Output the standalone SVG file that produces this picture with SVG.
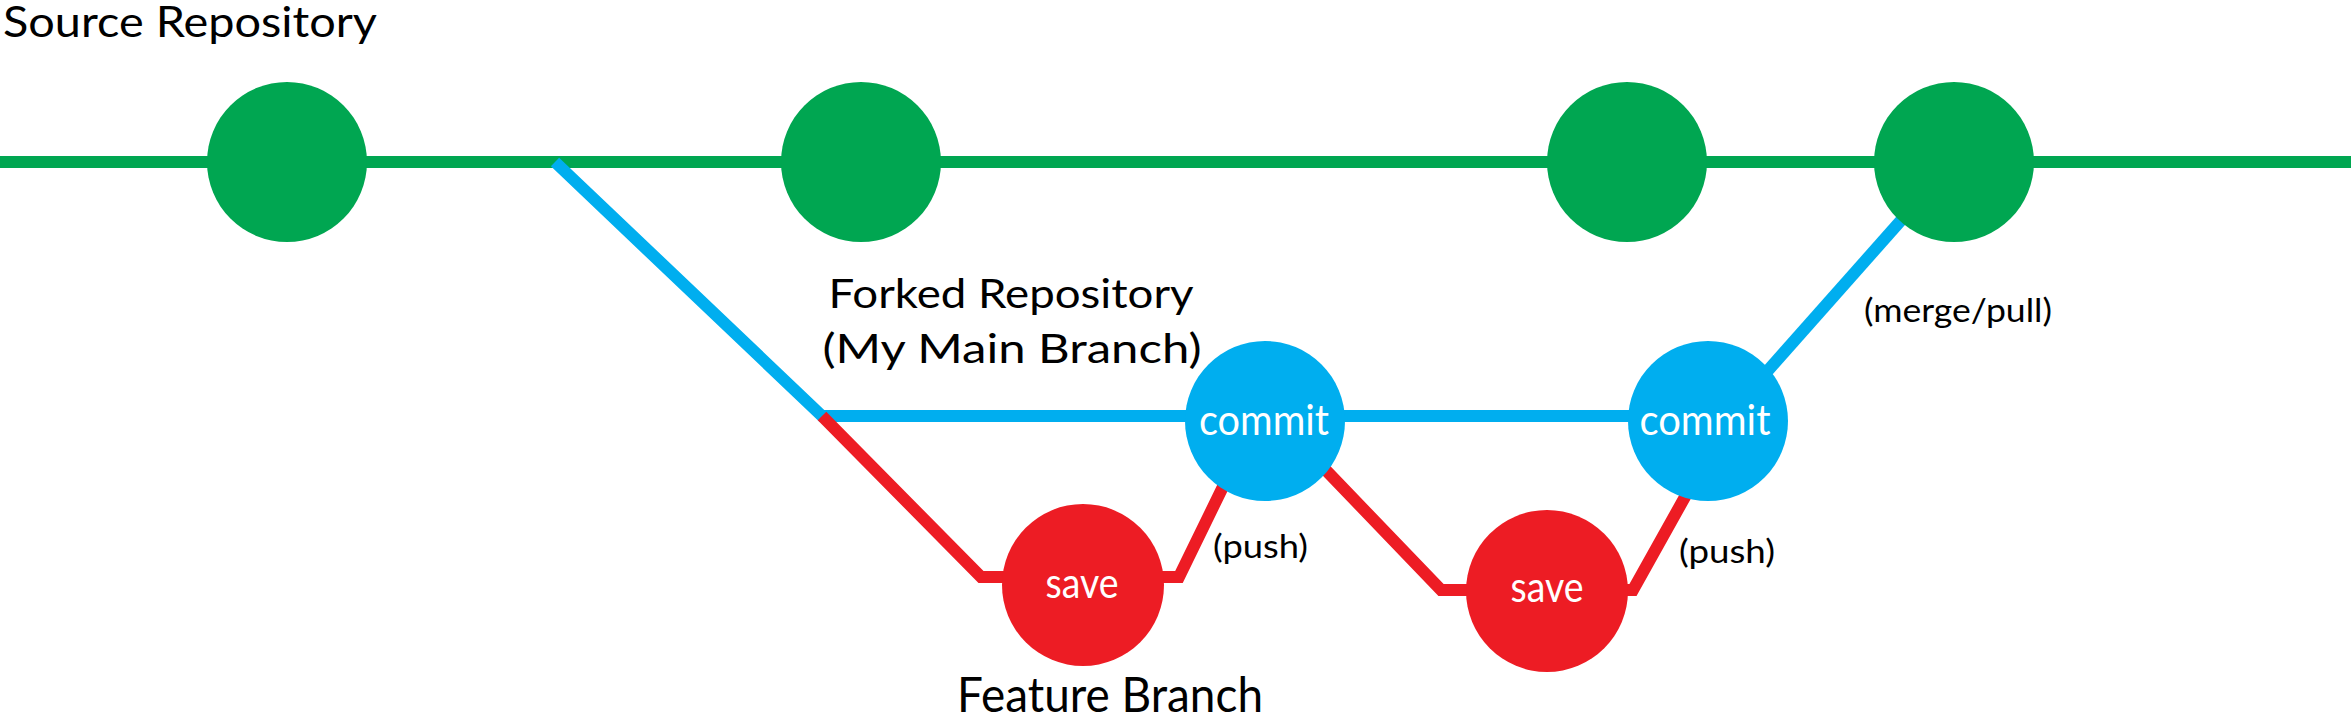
<svg xmlns="http://www.w3.org/2000/svg" width="2351" height="725" viewBox="0 0 2351 725">
<style>
.g{fill:#00A651}
.b{fill:#00AEEF}
.r{fill:#ED1C24}
.ln{fill:none;stroke-width:12;stroke-linejoin:miter;stroke-linecap:butt}
.lbl{font-family:Lato,"Liberation Sans",sans-serif;fill:#000}
.nl{font-family:Lato,"Liberation Sans",sans-serif;fill:#fff;font-size:42px;text-anchor:middle}
</style>
<rect width="2351" height="725" fill="#fff"/>
<g id="connectors">
<path class="ln" stroke="#00A651" d="M0,162 L2351,162"/>
<path class="ln" stroke="#00AEEF" d="M555,162 L822,416 L1708,416"/>
<path class="ln" stroke="#00AEEF" d="M1740,402 L1920,199"/>
<path class="ln" stroke="#ED1C24" d="M822,416 L981,577 L1090,577"/>
<path class="ln" stroke="#ED1C24" d="M1080,577 L1179,577 L1236,460"/>
<path class="ln" stroke="#ED1C24" d="M1295,438 L1441,590 L1550,590"/>
<path class="ln" stroke="#ED1C24" d="M1540,590 L1633,590 L1700,470"/>
</g>
<g id="src1"><circle class="g" cx="287" cy="162" r="80"/></g>
<g id="src2"><circle class="g" cx="861" cy="162" r="80"/></g>
<g id="src3"><circle class="g" cx="1627" cy="162" r="80"/></g>
<g id="src4"><circle class="g" cx="1954" cy="162" r="80"/></g>
<g id="commit1"><circle class="b" cx="1265" cy="421" r="80"/><text class="nl" x="1264" y="435" textLength="130" lengthAdjust="spacingAndGlyphs">commit</text></g>
<g id="commit2"><circle class="b" cx="1708" cy="421" r="80"/><text class="nl" x="1705" y="435" textLength="131" lengthAdjust="spacingAndGlyphs">commit</text></g>
<g id="save1"><circle class="r" cx="1083" cy="585" r="81"/><text class="nl" x="1082" y="598" textLength="73" lengthAdjust="spacingAndGlyphs">save</text></g>
<g id="save2"><circle class="r" cx="1547" cy="591" r="81"/><text class="nl" x="1547" y="602" textLength="73" lengthAdjust="spacingAndGlyphs">save</text></g>
<g id="labels">
<text class="lbl" x="3" y="37" font-size="43" textLength="374" lengthAdjust="spacingAndGlyphs">Source Repository</text>
<text class="lbl" x="1011" y="308" font-size="40" text-anchor="middle" textLength="365" lengthAdjust="spacingAndGlyphs">Forked Repository</text>
<text class="lbl" x="1012" y="363" font-size="40" text-anchor="middle" textLength="379" lengthAdjust="spacingAndGlyphs">(My Main Branch)</text>
<text class="lbl" x="957" y="712" font-size="49" textLength="306" lengthAdjust="spacingAndGlyphs">Feature Branch</text>
<text class="lbl" x="1213" y="558" font-size="33" textLength="95" lengthAdjust="spacingAndGlyphs">(push)</text>
<text class="lbl" x="1679" y="563" font-size="33" textLength="96" lengthAdjust="spacingAndGlyphs">(push)</text>
<text class="lbl" x="1864" y="322" font-size="33" textLength="188" lengthAdjust="spacingAndGlyphs">(merge/pull)</text>
</g>
</svg>
